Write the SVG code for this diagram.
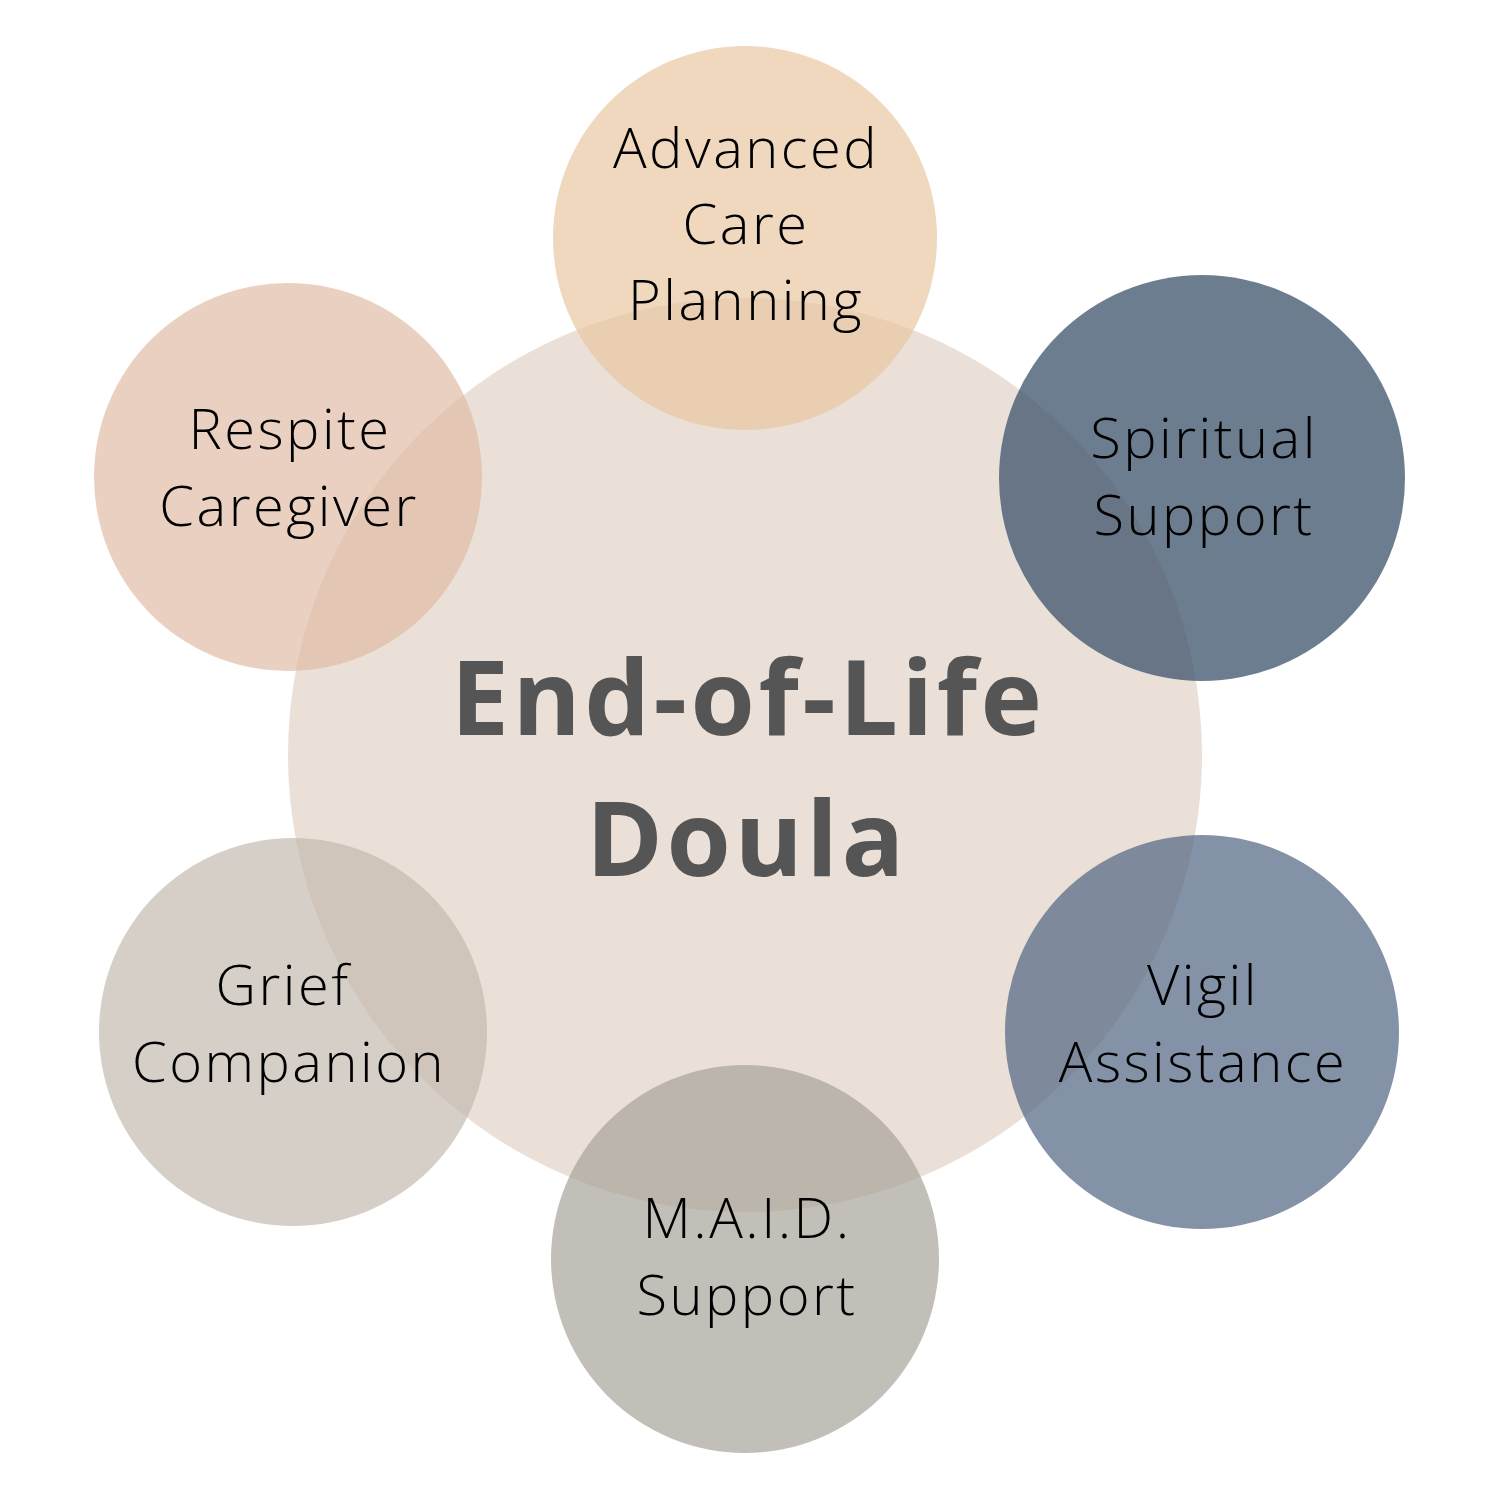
<svg xmlns="http://www.w3.org/2000/svg" width="1500" height="1500" viewBox="0 0 1500 1500">
<style>
.lbl{font-family:"Open Sans","Noto Sans","Liberation Sans",sans-serif;font-size:56px;font-weight:300;letter-spacing:2.5px;fill:#000;text-anchor:middle}
.ttl{font-family:"Open Sans","Noto Sans","Liberation Sans",sans-serif;font-weight:700;font-size:104px;letter-spacing:3.5px;fill:#555;text-anchor:middle}
</style>
<rect width="1500" height="1500" fill="#fff"/>
<g id="center">
<circle cx="745" cy="755" r="457" fill="#EAE0D8"/>
</g>
<g id="connectors"></g>
<g id="advanced-care-planning">
<circle cx="745" cy="238" r="192" fill="#E8C49E" fill-opacity="0.66"/>
<text class="lbl" x="746" y="168">Advanced</text>
<text class="lbl" x="746" y="244">Care</text>
<text class="lbl" x="746" y="320">Planning</text>
</g>
<g id="spiritual-support">
<circle cx="1202" cy="478" r="203" fill="#3B526B" fill-opacity="0.75"/>
<text class="lbl" x="1204" y="458">Spiritual</text>
<text class="lbl" x="1204" y="535">Support</text>
</g>
<g id="vigil-assistance">
<circle cx="1202" cy="1032" r="197" fill="#5A6E88" fill-opacity="0.75"/>
<text class="lbl" x="1203" y="1005">Vigil</text>
<text class="lbl" x="1203" y="1082">Assistance</text>
</g>
<g id="maid-support">
<circle cx="745" cy="1259" r="194" fill="#A39E93" fill-opacity="0.66"/>
<text class="lbl" x="747" y="1238">M.A.I.D.</text>
<text class="lbl" x="747" y="1315">Support</text>
</g>
<g id="grief-companion">
<circle cx="293" cy="1032" r="194" fill="#C1B6AC" fill-opacity="0.66"/>
<text class="lbl" x="283" y="1005">Grief</text>
<text class="lbl" x="289" y="1082">Companion</text>
</g>
<g id="respite-caregiver">
<circle cx="288" cy="477" r="194" fill="#DFB89F" fill-opacity="0.66"/>
<text class="lbl" x="290" y="449">Respite</text>
<text class="lbl" x="289" y="526">Caregiver</text>
</g>
<g id="title">
<text class="ttl" x="748" y="735">End-of-Life</text>
<text class="ttl" x="747" y="876">Doula</text>
</g>
</svg>
